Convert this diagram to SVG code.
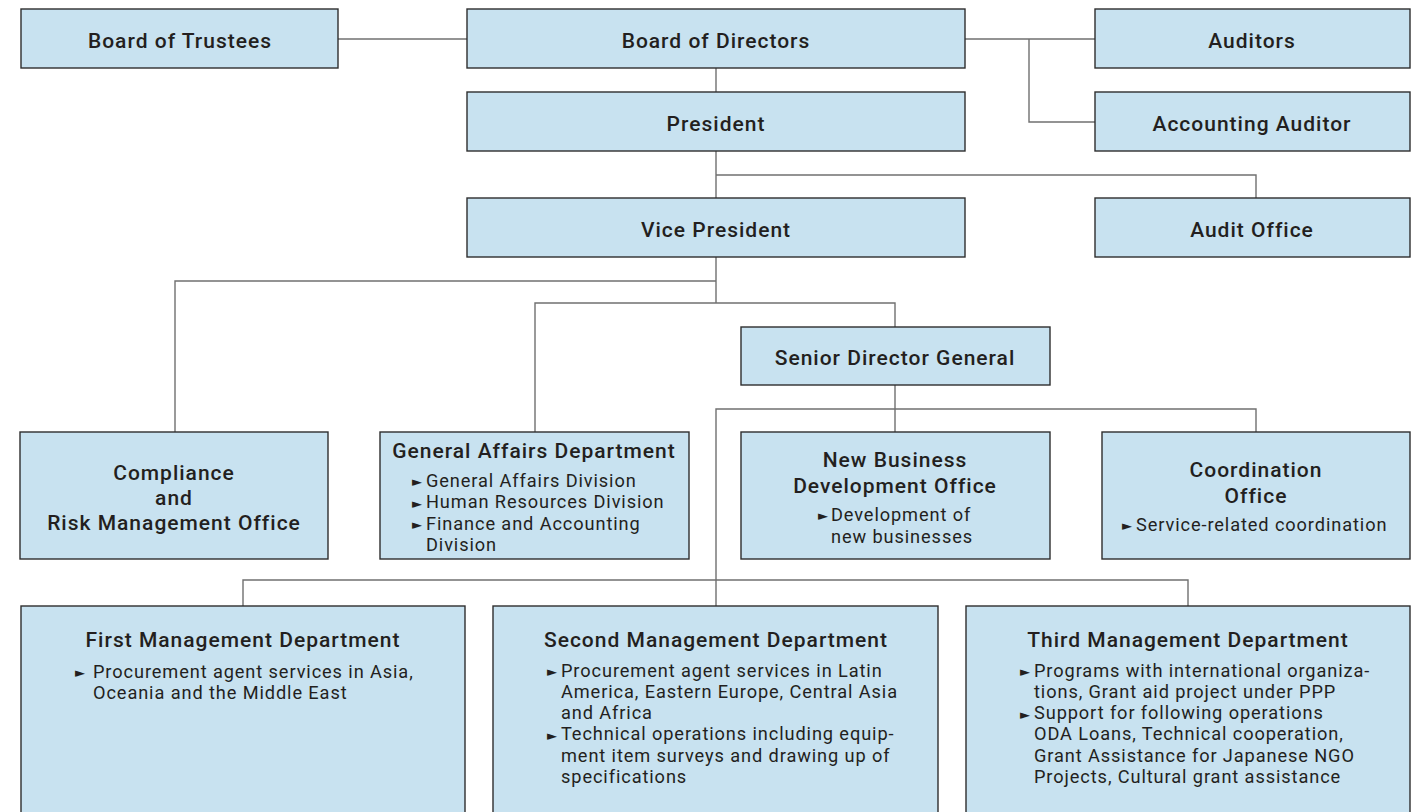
<svg xmlns="http://www.w3.org/2000/svg" width="1420" height="812" viewBox="0 0 1420 812">
<style>
.box{fill:#c8e2f0;stroke:#2e2e2e;stroke-width:1.4}
.h{font-family:Roboto,"Noto Sans",sans-serif;font-weight:500;font-size:21px;letter-spacing:1px;fill:#231f20;text-anchor:middle}
.b{font-family:Roboto,"Noto Sans",sans-serif;font-size:18.2px;letter-spacing:0.9px;fill:#231f20}
.m{font-family:"DejaVu Sans",sans-serif;font-size:13px;fill:#231f20}
#connectors path{fill:none;stroke:#707070;stroke-width:1.4}
</style>
<rect width="1420" height="812" fill="#ffffff"/>
<g id="connectors">
<path d="M338 39H467"/>
<path d="M965 39H1095M1029 39V122H1095"/>
<path d="M716 68V92"/>
<path d="M716 151V198M716 175H1256V198"/>
<path d="M716 257V303M716 281H175V432"/>
<path d="M535 432V303H895V327"/>
<path d="M895 385V432M716 606V409H1256V432"/>
<path d="M243 606V580H1188V606"/>
</g>
<g id="board-of-trustees"><rect class="box" x="21" y="9" width="317" height="59"/><text class="h" x="180" y="47.5">Board of Trustees</text></g>
<g id="board-of-directors"><rect class="box" x="467" y="9" width="498" height="59"/><text class="h" x="716" y="47.5">Board of Directors</text></g>
<g id="auditors"><rect class="box" x="1095" y="9" width="315" height="59"/><text class="h" x="1252" y="47.5">Auditors</text></g>
<g id="accounting-auditor"><rect class="box" x="1095" y="92" width="315" height="59"/><text class="h" x="1252" y="130.5">Accounting Auditor</text></g>
<g id="president"><rect class="box" x="467" y="92" width="498" height="59"/><text class="h" x="716" y="130.5">President</text></g>
<g id="vice-president"><rect class="box" x="467" y="198" width="498" height="59"/><text class="h" x="716" y="236.5">Vice President</text></g>
<g id="audit-office"><rect class="box" x="1095" y="198" width="315" height="59"/><text class="h" x="1252" y="236.5">Audit Office</text></g>
<g id="senior-director-general"><rect class="box" x="741" y="327" width="309" height="58"/><text class="h" x="895" y="364.5">Senior Director General</text></g>
<g id="compliance"><rect class="box" x="20" y="432" width="308" height="127"/>
<text class="h" x="174" y="479.5"><tspan x="174">Compliance</tspan><tspan x="174" dy="25">and</tspan><tspan x="174" dy="25">Risk Management Office</tspan></text></g>
<g id="general-affairs"><rect class="box" x="380" y="432" width="309" height="127"/>
<text class="h" x="534" y="457.5">General Affairs Department</text>
<text class="m" x="412" y="486">►</text><text class="m" x="412" y="508">►</text><text class="m" x="412" y="529">►</text>
<text class="b" x="426" y="486.5"><tspan x="426">General Affairs Division</tspan><tspan x="426" dy="21.5">Human Resources Division</tspan><tspan x="426" dy="21.5">Finance and Accounting</tspan><tspan x="426" dy="21.3">Division</tspan></text></g>
<g id="new-business"><rect class="box" x="741" y="432" width="309" height="127"/>
<text class="h" x="895" y="466.5"><tspan x="895">New Business</tspan><tspan x="895" dy="26">Development Office</tspan></text>
<text class="m" x="818" y="520">►</text>
<text class="b" x="831" y="520.5"><tspan x="831">Development of</tspan><tspan x="831" dy="22">new businesses</tspan></text></g>
<g id="coordination-office"><rect class="box" x="1102" y="432" width="308" height="127"/>
<text class="h" x="1256" y="476.5"><tspan x="1256">Coordination</tspan><tspan x="1256" dy="26">Office</tspan></text>
<text class="m" x="1122" y="530">►</text><text class="b" x="1136" y="530.5">Service-related coordination</text></g>
<g id="first-management"><rect class="box" x="21" y="606" width="444" height="220"/>
<text class="h" x="243" y="646.5">First Management Department</text>
<text class="m" x="75" y="677">►</text>
<text class="b" x="93" y="677.5"><tspan x="93">Procurement agent services in Asia,</tspan><tspan x="93" dy="21.3">Oceania and the Middle East</tspan></text></g>
<g id="second-management"><rect class="box" x="493" y="606" width="445" height="220"/>
<text class="h" x="716" y="646.5">Second Management Department</text>
<text class="m" x="547" y="676">►</text><text class="m" x="547" y="740">►</text>
<text class="b" x="561" y="676.5"><tspan x="561">Procurement agent services in Latin</tspan><tspan x="561" dy="21.3">America, Eastern Europe, Central Asia</tspan><tspan x="561" dy="21.3">and Africa</tspan><tspan x="561" dy="21.3">Technical operations including equip-</tspan><tspan x="561" dy="21.3">ment item surveys and drawing up of</tspan><tspan x="561" dy="21.3">specifications</tspan></text></g>
<g id="third-management"><rect class="box" x="966" y="606" width="444" height="220"/>
<text class="h" x="1188" y="646.5">Third Management Department</text>
<text class="m" x="1020" y="676">►</text><text class="m" x="1020" y="719">►</text>
<text class="b" x="1034" y="676.5"><tspan x="1034">Programs with international organiza-</tspan><tspan x="1034" dy="21.3">tions, Grant aid project under PPP</tspan><tspan x="1034" dy="21.3">Support for following operations</tspan><tspan x="1034" dy="21.3">ODA Loans, Technical cooperation,</tspan><tspan x="1034" dy="21.3">Grant Assistance for Japanese NGO</tspan><tspan x="1034" dy="21.3">Projects, Cultural grant assistance</tspan></text></g>
</svg>
